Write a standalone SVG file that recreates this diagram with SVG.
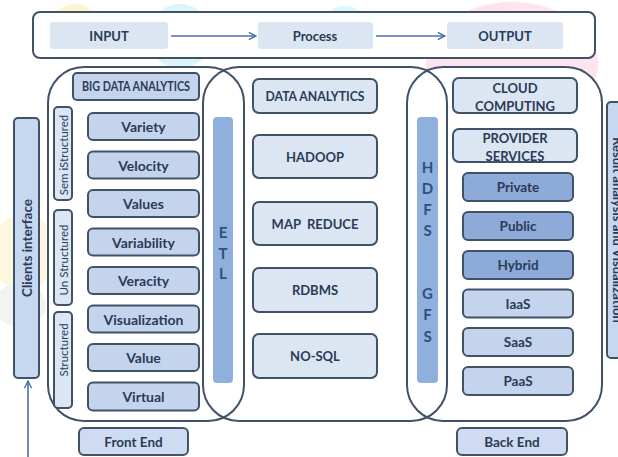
<svg xmlns="http://www.w3.org/2000/svg" width="618" height="457" viewBox="0 0 618 457">
<defs>
<style>
.t{font-family:Lato,"Liberation Sans",sans-serif;font-weight:bold;fill:#2a3b57;text-anchor:middle;dominant-baseline:central}
.box{stroke:#3f5268;stroke-width:2}
.lt{fill:#dce6f2}
.md{fill:#c5d4ed}
.dk{fill:#8eaad9}
.bar{fill:#8fb0dd}
.cont{fill:none;stroke:#3f5268;stroke-width:2}
.let{font-family:Lato,"Liberation Sans",sans-serif;font-weight:bold;fill:#2f4f80;font-size:15px;text-anchor:middle;dominant-baseline:central}
.conn{stroke:#4a72a8;stroke-width:1.6;fill:none}
</style>
<marker id="ah" viewBox="0 0 10 10" refX="9" refY="5" markerWidth="9" markerHeight="9" orient="auto" markerUnits="userSpaceOnUse">
<path d="M1,1 L9,5 L1,9" fill="none" stroke="#4a72a8" stroke-width="1.6"/>
</marker>
</defs>
<rect width="618" height="457" fill="#ffffff"/>
<g id="watermark" opacity="0.9">
<circle cx="75" cy="30" r="26" fill="#fdf4c8"/>
<circle cx="180" cy="36" r="32" fill="#d8f4fa"/>
<circle cx="345" cy="32" r="26" fill="#dbf7fd"/>
<ellipse cx="512" cy="64" rx="86" ry="62" fill="#fde1ec"/>
<ellipse cx="24" cy="252" rx="34" ry="38" fill="#fef7dc"/>
<ellipse cx="20" cy="305" rx="26" ry="22" fill="#f2f2f2"/>
</g>
<rect x="33" y="12" width="562" height="46" rx="7" fill="#ffffff" stroke="#3f5268" stroke-width="2"/>
<rect x="48" y="67" width="196" height="354" rx="36" fill="#ffffff"/>
<rect x="203" y="67" width="244" height="354" rx="36" fill="#ffffff"/>
<rect x="407" y="67" width="195" height="354" rx="36" fill="#ffffff"/>
<g id="containers">
<rect class="cont" x="48" y="67" width="196" height="354" rx="36"/>
<rect class="cont" x="203" y="67" width="244" height="354" rx="36"/>
<rect class="cont" x="407" y="67" width="195" height="354" rx="36"/>
</g>
<g id="input"><rect class="lt" x="50" y="22" width="118" height="27" rx="3"/><text class="t" x="109" y="36" font-size="13">INPUT</text></g>
<g id="process"><rect class="lt" x="258" y="22" width="115" height="27" rx="3"/><text class="t" x="315" y="36" font-size="13">Process</text></g>
<g id="output"><rect class="lt" x="447" y="22" width="116" height="27" rx="3"/><text class="t" x="505" y="36" font-size="13">OUTPUT</text></g>
<g id="clients"><rect class="box" fill="#c6d8ef" x="14" y="118" width="25" height="260" rx="4"/><text class="t" font-size="13.5" transform="translate(26.5,248) rotate(-90)">Clients interface</text></g>
<g id="bigdata"><rect class="box md" x="73" y="73" width="126" height="27" rx="4"/><text class="t" x="136" y="86.5" font-size="12.5" textLength="108" lengthAdjust="spacingAndGlyphs">BIG DATA ANALYTICS</text></g>
<g id="semistructured"><rect class="box lt" x="54" y="107" width="18" height="93" rx="4"/><text class="t" font-size="11.5" transform="translate(63,155) rotate(-90)" style="font-weight:normal">Sem iStructured</text></g>
<g id="unstructured"><rect class="box lt" x="54" y="210" width="18" height="95" rx="4"/><text class="t" font-size="11.5" transform="translate(63,260) rotate(-90)" style="font-weight:normal">Un Structured</text></g>
<g id="structured"><rect class="box lt" x="54" y="312" width="18" height="96" rx="4"/><text class="t" font-size="11.5" transform="translate(63,350) rotate(-90)" style="font-weight:normal">Structured</text></g>
<g id="variety"><rect class="box md" x="88" y="113" width="111" height="27" rx="5"/><text class="t" x="143.5" y="126.5" font-size="14">Variety</text></g>
<g id="velocity"><rect class="box md" x="88" y="151.5" width="111" height="27" rx="5"/><text class="t" x="143.5" y="165" font-size="14">Velocity</text></g>
<g id="values"><rect class="box md" x="88" y="190" width="111" height="27" rx="5"/><text class="t" x="143.5" y="203.5" font-size="14">Values</text></g>
<g id="variability"><rect class="box md" x="88" y="228.5" width="111" height="27" rx="5"/><text class="t" x="143.5" y="242" font-size="14">Variability</text></g>
<g id="veracity"><rect class="box md" x="88" y="267" width="111" height="27" rx="5"/><text class="t" x="143.5" y="280.5" font-size="14">Veracity</text></g>
<g id="visualization"><rect class="box md" x="88" y="305.5" width="111" height="27" rx="5"/><text class="t" x="143.5" y="319" font-size="14">Visualization</text></g>
<g id="value"><rect class="box md" x="88" y="344" width="111" height="27" rx="5"/><text class="t" x="143.5" y="357.5" font-size="14">Value</text></g>
<g id="virtual"><rect class="box md" x="88" y="382.5" width="111" height="28" rx="5"/><text class="t" x="143.5" y="396.5" font-size="14">Virtual</text></g>
<g id="frontend"><rect class="box" fill="#cfdbf0" x="79" y="428" width="109" height="27" rx="5"/><text class="t" x="133.5" y="441.5" font-size="13.5">Front End</text></g>
<g id="etl"><rect class="bar" x="213" y="117" width="20" height="266" rx="4"/><text class="let" x="223" y="232">E</text><text class="let" x="223" y="253">T</text><text class="let" x="223" y="273">L</text></g>
<g id="dataanalytics"><rect class="box lt" x="253" y="79" width="124" height="34" rx="6"/><text class="t" x="315" y="96" font-size="13" textLength="99" lengthAdjust="spacingAndGlyphs">DATA ANALYTICS</text></g>
<g id="hadoop"><rect class="box lt" x="253" y="135" width="124" height="43" rx="6"/><text class="t" x="315" y="156.5" font-size="13">HADOOP</text></g>
<g id="mapreduce"><rect class="box lt" x="253" y="202" width="124" height="43" rx="6"/><text class="t" x="315" y="223.5" font-size="13" xml:space="preserve">MAP  REDUCE</text></g>
<g id="rdbms"><rect class="box lt" x="253" y="268" width="124" height="44" rx="6"/><text class="t" x="315" y="290" font-size="13">RDBMS</text></g>
<g id="nosql"><rect class="box lt" x="253" y="334" width="124" height="44" rx="6"/><text class="t" x="315" y="356" font-size="13">NO-SQL</text></g>
<g id="hdfs"><rect class="bar" x="417" y="117" width="21" height="266" rx="4"/><text class="let" x="427.5" y="167">H</text><text class="let" x="427.5" y="188">D</text><text class="let" x="427.5" y="209">F</text><text class="let" x="427.5" y="230">S</text><text class="let" x="427.5" y="293">G</text><text class="let" x="427.5" y="314">F</text><text class="let" x="427.5" y="336">S</text></g>
<g id="cloud"><rect class="box lt" x="453" y="78" width="124" height="35" rx="6"/><text class="t" x="515" y="88" font-size="13">CLOUD</text><text class="t" x="515" y="106" font-size="13">COMPUTING</text></g>
<g id="provider"><rect class="box lt" x="453" y="129" width="124" height="33" rx="6"/><text class="t" x="515" y="138" font-size="13">PROVIDER</text><text class="t" x="515" y="156" font-size="13">SERVICES</text></g>
<g id="private"><rect class="box dk" x="463" y="173" width="110" height="28" rx="5"/><text class="t" x="518" y="187" font-size="13.5">Private</text></g>
<g id="public"><rect class="box dk" x="463" y="212" width="110" height="28" rx="5"/><text class="t" x="518" y="226" font-size="13.5">Public</text></g>
<g id="hybrid"><rect class="box dk" x="463" y="251" width="110" height="28" rx="5"/><text class="t" x="518" y="265" font-size="13.5">Hybrid</text></g>
<g id="iaas"><rect class="box md" x="463" y="289.5" width="110" height="28" rx="5"/><text class="t" x="518" y="303.5" font-size="13.5">IaaS</text></g>
<g id="saas"><rect class="box md" x="463" y="328" width="110" height="28" rx="5"/><text class="t" x="518" y="342" font-size="13.5">SaaS</text></g>
<g id="paas"><rect class="box md" x="463" y="367" width="110" height="28" rx="5"/><text class="t" x="518" y="381" font-size="13.5">PaaS</text></g>
<g id="backend"><rect class="box" fill="#cfdbf0" x="457" y="428" width="110" height="27" rx="5"/><text class="t" x="512" y="441.5" font-size="13.5">Back End</text></g>
<g id="result"><rect class="box" fill="#c6d8ef" x="607" y="102" width="30" height="256" rx="4"/><text class="t" font-size="13" transform="translate(613,230) rotate(90)" style="dominant-baseline:auto">Result analysis and Visualization</text></g>
<g id="connectors">
<line class="conn" x1="171" y1="36" x2="256" y2="36" marker-end="url(#ah)"/>
<line class="conn" x1="376" y1="36" x2="445" y2="36" marker-end="url(#ah)"/>
<line class="conn" x1="28" y1="457" x2="28" y2="381" marker-end="url(#ah)"/>
</g>
</svg>
